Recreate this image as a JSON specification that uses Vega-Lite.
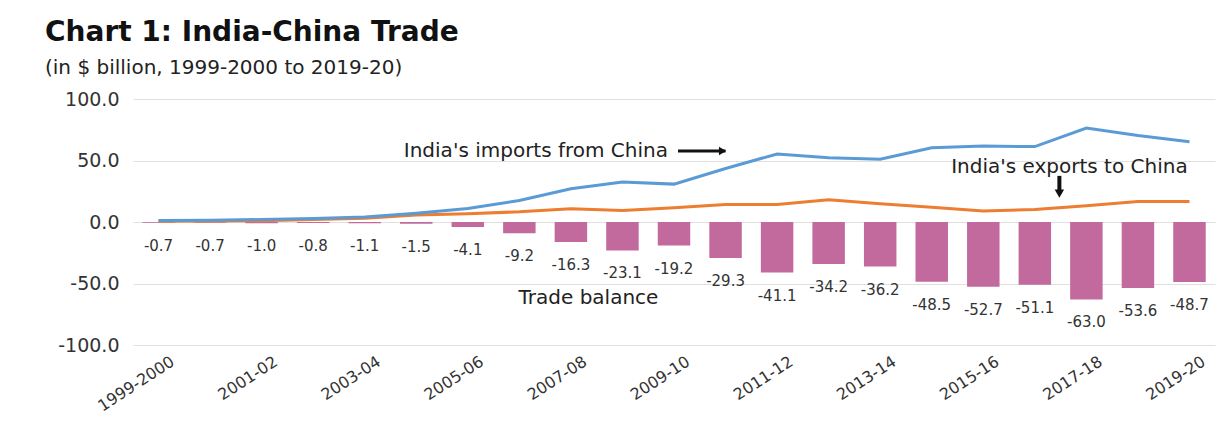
{
  "$schema": "https://vega.github.io/schema/vega-lite/v6.json",
  "width": 1082,
  "height": 246,
  "autosize": "none",
  "padding": {"left": 133, "top": 99, "right": 15, "bottom": 82},
  "background": "white",
  "config": {
    "view": {"stroke": null},
    "locale": {"number": {"decimal": ".", "thousands": ",", "grouping": [3], "currency": ["$", ""], "minus": "-"}}
  },
  "title": {
    "text": "Chart 1: India-China Trade",
    "subtitle": "(in $ billion, 1999-2000 to 2019-20)",
    "anchor": "start",
    "frame": "group",
    "dx": -88,
    "offset": 12,
    "font": "DejaVu Sans",
    "fontSize": 28,
    "fontWeight": "bold",
    "color": "#111111",
    "subtitleFont": "DejaVu Sans",
    "subtitleFontSize": 20,
    "subtitleColor": "#222222",
    "subtitlePadding": 11
  },
  "datasets": {
    "trade": [
      {"year": "1999-2000", "imports": 1.3, "exports": 0.6, "balance": -0.7},
      {"year": "2000-01", "imports": 1.5, "exports": 0.8, "balance": -0.7},
      {"year": "2001-02", "imports": 2.0, "exports": 1.0, "balance": -1.0},
      {"year": "2002-03", "imports": 2.8, "exports": 2.0, "balance": -0.8},
      {"year": "2003-04", "imports": 4.1, "exports": 3.0, "balance": -1.1},
      {"year": "2004-05", "imports": 7.1, "exports": 5.6, "balance": -1.5},
      {"year": "2005-06", "imports": 10.9, "exports": 6.8, "balance": -4.1},
      {"year": "2006-07", "imports": 17.5, "exports": 8.3, "balance": -9.2},
      {"year": "2007-08", "imports": 27.1, "exports": 10.8, "balance": -16.3},
      {"year": "2008-09", "imports": 32.5, "exports": 9.4, "balance": -23.1},
      {"year": "2009-10", "imports": 30.8, "exports": 11.6, "balance": -19.2},
      {"year": "2010-11", "imports": 43.5, "exports": 14.2, "balance": -29.3},
      {"year": "2011-12", "imports": 55.3, "exports": 14.2, "balance": -41.1},
      {"year": "2012-13", "imports": 52.2, "exports": 18.0, "balance": -34.2},
      {"year": "2013-14", "imports": 51.0, "exports": 14.8, "balance": -36.2},
      {"year": "2014-15", "imports": 60.4, "exports": 11.9, "balance": -48.5},
      {"year": "2015-16", "imports": 61.7, "exports": 9.0, "balance": -52.7},
      {"year": "2016-17", "imports": 61.3, "exports": 10.2, "balance": -51.1},
      {"year": "2017-18", "imports": 76.4, "exports": 13.3, "balance": -63.0},
      {"year": "2018-19", "imports": 70.3, "exports": 16.7, "balance": -53.6},
      {"year": "2019-20", "imports": 65.3, "exports": 16.6, "balance": -48.7}
    ],
    "notes": [
      {"year": "2009-10", "value": 57.7, "label": "India's imports from China", "kind": "imports"},
      {"year": "2017-18", "value": 44.7, "label": "India's exports to China", "kind": "exports"},
      {"year": "2008-09", "value": -61.8, "label": "Trade balance", "kind": "balance"}
    ],
    "arrowH": [
      {"from": "2009-10", "to": "2010-11", "value": 57.7}
    ],
    "arrowV": [
      {"year": "2017-18", "top": 37.5, "bottom": 23.0}
    ]
  },
  "data": {"name": "trade"},
  "encoding": {
    "x": {
      "field": "year",
      "type": "ordinal",
      "sort": null,
      "scale": {"paddingInner": 0.37, "paddingOuter": 0.18},
      "axis": {
        "title": null,
        "domain": false,
        "ticks": false,
        "grid": false,
        "labelAngle": -33,
        "labelFont": "DejaVu Sans",
        "labelFontSize": 16,
        "labelColor": "#333333",
        "labelPadding": 8,
        "labelOffset": 10,
        "values": ["1999-2000", "2001-02", "2003-04", "2005-06", "2007-08", "2009-10", "2011-12", "2013-14", "2015-16", "2017-18", "2019-20"]
      }
    }
  },
  "layer": [
    {
      "mark": {"type": "bar", "color": "#c26a9d"},
      "encoding": {
        "y": {
          "field": "balance",
          "type": "quantitative",
          "scale": {"domain": [-100, 100]},
          "axis": {
            "title": null,
            "domain": false,
            "ticks": false,
            "values": [-100, -50, 0, 50, 100],
            "format": ".1f",
            "labelFont": "DejaVu Sans",
            "labelFontSize": 19,
            "labelColor": "#333333",
            "labelPadding": 14,
            "gridColor": "#e0e0e0",
            "gridWidth": 1.2
          }
        }
      }
    },
    {
      "mark": {"type": "text", "baseline": "middle", "align": "center", "dy": 23, "font": "DejaVu Sans", "fontSize": 15, "color": "#333333"},
      "encoding": {
        "y": {"field": "balance", "type": "quantitative"},
        "text": {"field": "balance", "type": "quantitative", "format": ".1f"}
      }
    },
    {
      "mark": {"type": "line", "color": "#ed7d31", "strokeWidth": 3},
      "encoding": {"y": {"field": "exports", "type": "quantitative"}}
    },
    {
      "mark": {"type": "line", "color": "#5b9bd5", "strokeWidth": 3},
      "encoding": {"y": {"field": "imports", "type": "quantitative"}}
    },
    {
      "data": {"name": "notes"},
      "transform": [{"filter": "datum.kind == 'imports'"}],
      "mark": {"type": "text", "align": "right", "baseline": "middle", "dx": -6, "font": "DejaVu Sans", "fontSize": 20, "color": "#222222"},
      "encoding": {
        "y": {"field": "value", "type": "quantitative"},
        "text": {"field": "label"}
      }
    },
    {
      "data": {"name": "notes"},
      "transform": [{"filter": "datum.kind == 'exports'"}],
      "mark": {"type": "text", "align": "center", "baseline": "middle", "dx": -17, "font": "DejaVu Sans", "fontSize": 20, "color": "#222222"},
      "encoding": {
        "y": {"field": "value", "type": "quantitative"},
        "text": {"field": "label"}
      }
    },
    {
      "data": {"name": "notes"},
      "transform": [{"filter": "datum.kind == 'balance'"}],
      "mark": {"type": "text", "align": "center", "baseline": "middle", "dx": -34, "font": "DejaVu Sans", "fontSize": 20, "color": "#222222"},
      "encoding": {
        "y": {"field": "value", "type": "quantitative"},
        "text": {"field": "label"}
      }
    },
    {
      "data": {"name": "arrowH"},
      "mark": {"type": "rule", "color": "#111111", "strokeWidth": 3, "xOffset": 4},
      "encoding": {
        "x": {"field": "from", "type": "ordinal"},
        "x2": {"field": "to"},
        "y": {"field": "value", "type": "quantitative"}
      }
    },
    {
      "data": {"name": "arrowH"},
      "mark": {"type": "point", "shape": "triangle-right", "filled": true, "color": "#111111", "size": 70, "opacity": 1, "xOffset": -3},
      "encoding": {
        "x": {"field": "to", "type": "ordinal"},
        "y": {"field": "value", "type": "quantitative"}
      }
    },
    {
      "data": {"name": "arrowV"},
      "mark": {"type": "rule", "color": "#111111", "strokeWidth": 4, "xOffset": -27},
      "encoding": {
        "x": {"field": "year", "type": "ordinal"},
        "y": {"field": "top", "type": "quantitative"},
        "y2": {"field": "bottom"}
      }
    },
    {
      "data": {"name": "arrowV"},
      "mark": {"type": "point", "shape": "triangle-down", "filled": true, "color": "#111111", "size": 90, "opacity": 1, "xOffset": -27},
      "encoding": {
        "x": {"field": "year", "type": "ordinal"},
        "y": {"field": "bottom", "type": "quantitative"}
      }
    }
  ]
}
